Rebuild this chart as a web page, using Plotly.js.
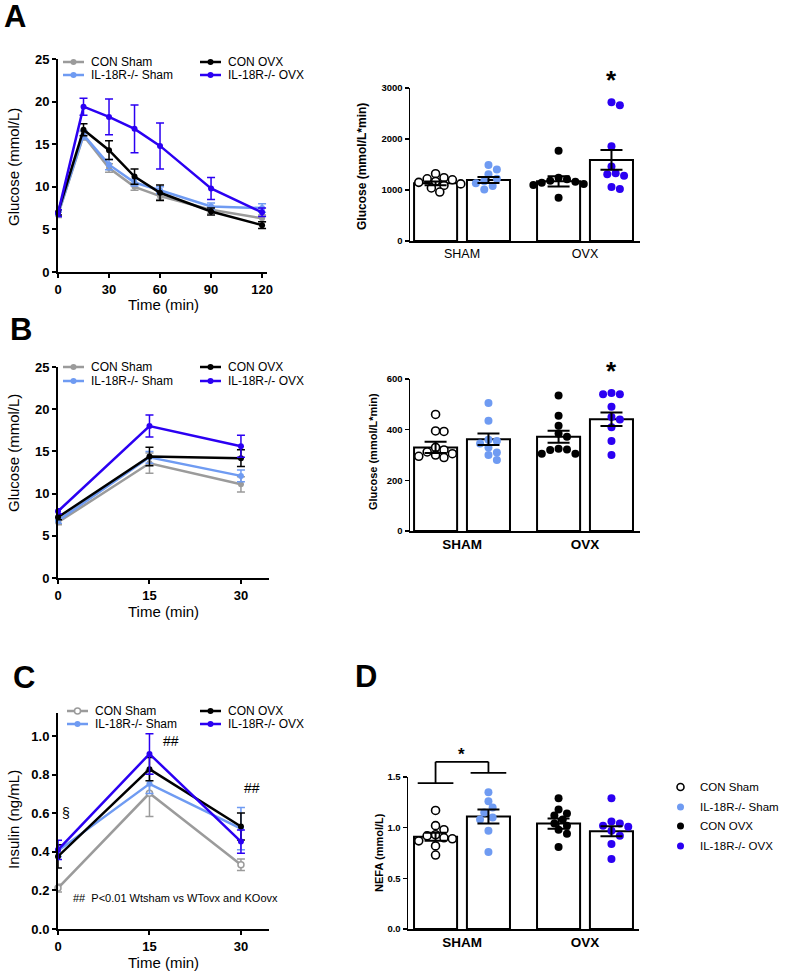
<!DOCTYPE html>
<html><head><meta charset="utf-8">
<script src="https://cdn.plot.ly/plotly-3.0.1.min.js"></script>
<style>html,body{margin:0;padding:0;background:#fff}</style>
</head><body><div id="chart" style="width:787px;height:972px"></div>
<script>
// ---------- DATA ----------
const seriesNames = ["CON Sham", "IL-18R-/- Sham", "CON OVX", "IL-18R-/- OVX"];
const groupLabels = ["SHAM", "OVX"];

// Panel A - GTT
const timeA = [0, 15, 30, 45, 60, 90, 120];
const conShamA = [6.7, 16.0, 12.2, 10.0, 8.9, 7.3, 6.3];
const conShamAErr = [0.3, 0.5, 0.5, 0.4, 0.4, 0.4, 0.4];
const ilShamA = [6.8, 16.1, 12.6, 10.5, 9.6, 7.7, 7.5];
const ilShamAErr = [0.3, 0.5, 0.6, 0.4, 0.4, 0.4, 0.5];
const conOvxA = [7.0, 16.7, 14.3, 11.2, 9.3, 7.1, 5.5];
const conOvxAErr = [0.3, 0.7, 1.1, 0.9, 0.9, 0.4, 0.4];
const ilOvxA = [6.9, 19.4, 18.2, 16.8, 14.8, 9.8, 7.0];
const ilOvxAErr = [0.4, 1.0, 2.1, 2.8, 2.7, 1.3, 0.5];

// Panel A - AUC
const conShamAucA = [1320, 1240, 1220, 1200, 1170, 1150, 1120, 1090, 1040, 960];
const ilShamAucA = [1490, 1400, 1310, 1220, 1170, 1130, 1080, 1010];
const conOvxAucA = [1770, 1240, 1210, 1180, 1160, 1140, 1120, 1100, 850];
const ilOvxAucA = [2720, 2660, 1860, 1460, 1330, 1310, 1280, 1060, 1020];
const meanAucA = [1130, 1195, 1170, 1590];
const semAucA = [35, 60, 100, 195];

// Panel B - glucose
const timeB = [0, 15, 30];
const conShamB = [6.6, 13.6, 11.1];
const conShamBErr = [0.3, 1.2, 0.9];
const ilShamB = [6.8, 14.3, 12.1];
const ilShamBErr = [0.3, 0.7, 0.7];
const conOvxB = [7.2, 14.4, 14.2];
const conOvxBErr = [0.3, 1.1, 1.0];
const ilOvxB = [7.9, 18.0, 15.6];
const ilOvxBErr = [0.3, 1.3, 1.3];

// Panel B - AUC
const conShamAucB = [460, 395, 393, 330, 320, 312, 305, 300, 295, 290];
const ilShamAucB = [505, 435, 360, 355, 345, 330, 310, 300, 280];
const conOvxAucB = [535, 455, 415, 385, 372, 325, 322, 320, 305, 305];
const ilOvxAucB = [545, 540, 540, 490, 450, 440, 410, 355, 300];
const meanAucB = [330, 362, 372, 441];
const semAucB = [22, 23, 24, 27];

// Panel C - Insulin
const timeC = [0, 15, 30];
const conShamC = [0.212, 0.703, 0.333];
const conShamCErr = [0.02, 0.12, 0.03];
const ilShamC = [0.405, 0.752, 0.52];
const ilShamCErr = [0.03, 0.05, 0.11];
const conOvxC = [0.376, 0.828, 0.531];
const conOvxCErr = [0.06, 0.06, 0.07];
const ilOvxC = [0.41, 0.907, 0.453];
const ilOvxCErr = [0.05, 0.105, 0.06];

// Panel D - NEFA
const conShamD = [1.17, 1.02, 0.98, 0.93, 0.92, 0.90, 0.89, 0.87, 0.82, 0.73];
const ilShamD = [1.35, 1.26, 1.20, 1.15, 1.10, 1.08, 0.97, 0.76];
const conOvxD = [1.29, 1.18, 1.14, 1.12, 1.08, 1.04, 1.02, 0.98, 0.94, 0.81];
const ilOvxD = [1.29, 1.06, 1.04, 1.02, 1.01, 0.97, 0.92, 0.84, 0.69];
const meanD = [0.91, 1.11, 1.04, 0.965];
const semD = [0.04, 0.07, 0.05, 0.05];

// ---------- STYLE ----------
const W = 787, H = 972;
const F = "Liberation Sans, Arial, Helvetica, sans-serif";
const colors = ["#9b9b9b", "#6f9bf2", "#000000", "#2b00f2"];
const PX = x => x / W, PY = y => 1 - y / H;

const traces = [];
const shapes = [];
const annotations = [];

function ann(x, y, text, size, bold, extra) {
  annotations.push(Object.assign({
    xref: "paper", yref: "paper", x: PX(x), y: PY(y), text: text, showarrow: false,
    xanchor: "center", yanchor: "middle",
    font: {family: F, size: size, color: "#000", weight: bold ? "bold" : "normal"}
  }, extra || {}));
}

function axisBase(extra) {
  return Object.assign({
    showline: true, linecolor: "#000", linewidth: 2, showgrid: false, zeroline: false,
    ticks: "outside", ticklen: 4, tickwidth: 2, tickcolor: "#000",
    tickfont: {family: F, size: 13, color: "#000", weight: "bold"}, fixedrange: true
  }, extra);
}

// ---------- Line panels ----------
function linePanel(xa, ya, t, sets, openFirst) {
  sets.forEach((s, i) => {
    const open = openFirst && i === 0;
    traces.push({
      type: "scatter", mode: "lines+markers", x: t, y: s[0], xaxis: xa, yaxis: ya,
      line: {color: colors[i], width: 2.5},
      marker: {color: open ? "#fff" : colors[i], size: 6, line: {color: colors[i], width: open ? 1.5 : 0}},
      error_y: {type: "data", array: s[1], visible: true, color: colors[i], thickness: 1.5, width: 4},
      cliponaxis: false, showlegend: false, hoverinfo: "skip"
    });
  });
}
linePanel("x", "y", timeA, [[conShamA, conShamAErr], [ilShamA, ilShamAErr], [conOvxA, conOvxAErr], [ilOvxA, ilOvxAErr]], false);
linePanel("x3", "y3", timeB, [[conShamB, conShamBErr], [ilShamB, ilShamBErr], [conOvxB, conOvxBErr], [ilOvxB, ilOvxBErr]], false);
linePanel("x5", "y5", timeC, [[conShamC, conShamCErr], [ilShamC, ilShamCErr], [conOvxC, conOvxCErr], [ilOvxC, ilOvxCErr]], true);

// legend for line panels
function lineLegend(rowY1, rowY2, c1x, c2x, openFirst) {
  const rows = [[c1x, rowY1], [c1x, rowY2], [c2x, rowY1], [c2x, rowY2]];
  rows.forEach((r, i) => {
    const x0 = r[0], y = r[1];
    shapes.push({type: "line", xref: "paper", yref: "paper", x0: PX(x0), x1: PX(x0 + 21), y0: PY(y), y1: PY(y),
      line: {color: colors[i], width: 2.5}});
    const open = openFirst && i === 0;
    shapes.push({type: "circle", xref: "paper", yref: "paper", x0: PX(x0 + 7.5), x1: PX(x0 + 13.5), y0: PY(y - 3), y1: PY(y + 3),
      fillcolor: open ? "#fff" : colors[i], line: {color: colors[i], width: open ? 1.5 : 0}});
    ann(x0 + 26, y, seriesNames[i], 12, false, {xanchor: "left"});
  });
}
lineLegend(62, 75, 63, 200, false);
lineLegend(367, 381, 63, 200, false);
lineLegend(711, 724, 67, 200, true);

// ---------- Bar panels ----------
const barOff = 0.215, barW = 0.35;
const barX = [-barOff, barOff, 1 - barOff, 1 + barOff];

function swarm(values, center, pxPerX, pxPerY, d) {
  const placed = [], xs = [];
  const step = d / 2;
  values.forEach(v => {
    const yp = v * pxPerY;
    let chosen = 0;
    for (let k = 0; k < 30; k++) {
      const off = (k === 0) ? 0 : (k % 2 === 1 ? 1 : -1) * Math.ceil(k / 2) * step;
      if (placed.every(p => (p[0] - off) ** 2 + (p[1] - yp) ** 2 >= d * d * 0.75)) { chosen = off; break; }
    }
    placed.push([chosen, yp]);
    xs.push(center + chosen / pxPerX);
  });
  return xs;
}

function barPanel(xa, ya, groups, means, sems, pxPerX, pxPerY) {
  traces.push({
    type: "bar", x: barX, y: means, width: barW, xaxis: xa, yaxis: ya,
    marker: {color: "#fff", line: {color: "#000", width: 2}}, showlegend: false, hoverinfo: "skip"
  });
  const dotFill = ["#fff", colors[1], "#000", colors[3]];
  groups.forEach((vals, i) => {
    const open = i === 0;
    traces.push({
      type: "scatter", mode: "markers", x: swarm(vals, barX[i], pxPerX, pxPerY, 8.4), y: vals, xaxis: xa, yaxis: ya,
      marker: {size: 8, color: dotFill[i], line: {color: "#000", width: open ? 1.6 : 0}},
      cliponaxis: false, showlegend: false, hoverinfo: "skip"
    });
  });
  traces.push({
    type: "scatter", mode: "markers", x: barX, y: means, xaxis: xa, yaxis: ya,
    marker: {size: 1, opacity: 0},
    error_y: {type: "data", array: sems, visible: true, color: "#000", thickness: 2, width: 11},
    cliponaxis: false, showlegend: false, hoverinfo: "skip"
  });
}
const pxXbar = 230 / 1.87;
barPanel("x2", "y2", [conShamAucA, ilShamAucA, conOvxAucA, ilOvxAucA], meanAucA, semAucA, pxXbar, 153 / 3000);
barPanel("x4", "y4", [conShamAucB, ilShamAucB, conOvxAucB, ilOvxAucB], meanAucB, semAucB, pxXbar, 152 / 600);
barPanel("x6", "y6", [conShamD, ilShamD, conOvxD, ilOvxD], meanD, semD, 231 / 1.878, 152 / 1.5);

// ---------- Layout ----------
const tfBar = {family: F, size: 9.5, color: "#000", weight: "bold"};
const D6 = {x: [408, 639], y: [929, 777], xr: [-0.439, 1.439], yr: [0, 1.5]};
const layout = {
  width: W, height: H, margin: {l: 0, r: 0, t: 0, b: 0},
  paper_bgcolor: "#fff", plot_bgcolor: "rgba(0,0,0,0)", showlegend: false,
  font: {family: F, color: "#000"},
  xaxis: axisBase({domain: [PX(58), PX(267)], range: [0, 122.9], tickvals: [0, 30, 60, 90, 120], anchor: "y"}),
  yaxis: axisBase({domain: [PY(272), PY(59)], range: [0, 25], tickvals: [0, 5, 10, 15, 20, 25], anchor: "x"}),
  xaxis2: axisBase({domain: [PX(410), PX(640)], range: [-0.423, 1.447], tickvals: [0, 1], ticktext: groupLabels, ticks: "",
    tickfont: {family: F, size: 12.5, color: "#000"}, anchor: "y2"}),
  yaxis2: axisBase({domain: [PY(241), PY(88)], range: [0, 3000], tickvals: [0, 1000, 2000, 3000], linewidth: 1.5, tickwidth: 1.5,
    tickfont: tfBar, anchor: "x2"}),
  xaxis3: axisBase({domain: [PX(58), PX(269)], range: [0, 34.6], tickvals: [0, 15, 30], anchor: "y3"}),
  yaxis3: axisBase({domain: [PY(578), PY(367)], range: [0, 25], tickvals: [0, 5, 10, 15, 20, 25], anchor: "x3"}),
  xaxis4: axisBase({domain: [PX(410), PX(640)], range: [-0.423, 1.447], tickvals: [0, 1], ticktext: groupLabels, ticks: "",
    tickfont: {family: F, size: 13.5, color: "#000", weight: "bold"}, anchor: "y4"}),
  yaxis4: axisBase({domain: [PY(531), PY(379)], range: [0, 600], tickvals: [0, 200, 400, 600], linewidth: 1.5, tickwidth: 1.5,
    tickfont: tfBar, anchor: "x4"}),
  xaxis5: axisBase({domain: [PX(58), PX(269)], range: [0, 34.6], tickvals: [0, 15, 30], anchor: "y5"}),
  yaxis5: axisBase({domain: [PY(929), PY(713)], range: [0, 1.119], tickvals: [0, 0.2, 0.4, 0.6, 0.8, 1.0], tickformat: ".1f", anchor: "x5"}),
  xaxis6: axisBase({domain: [PX(D6.x[0]), PX(D6.x[1])], range: D6.xr, tickvals: [0, 1], ticktext: groupLabels, ticks: "",
    tickfont: {family: F, size: 13.5, color: "#000", weight: "bold"}, anchor: "y6"}),
  yaxis6: axisBase({domain: [PY(D6.y[0]), PY(D6.y[1])], range: D6.yr, tickvals: [0, 0.5, 1.0, 1.5], tickformat: ".1f", linewidth: 1.5, tickwidth: 1.5,
    tickfont: tfBar, anchor: "x6"}),
  shapes: shapes, annotations: annotations
};

// panel letters
ann(15, 16, "A", 31, true);
ann(21, 330, "B", 31, true);
ann(24, 677, "C", 31, true);
ann(366, 676, "D", 31, true);

// axis titles
ann(13, 167, "Glucose (mmol/L)", 15, false, {textangle: -90});
ann(163, 304, "Time (min)", 15, false);
ann(362, 167, "Glucose (mmol/L*min)", 12, true, {textangle: -90});
ann(13, 453, "Glucose (mmol/L)", 15, false, {textangle: -90});
ann(163, 611, "Time (min)", 15, false);
ann(373, 452, "Glucose (mmol/L*min)", 11, true, {textangle: -90});
ann(13, 820, "Insulin (ng/mL)", 15, false, {textangle: -90});
ann(163, 962, "Time (min)", 15, false);
ann(379, 853, "NEFA (mmol/L)", 11, true, {textangle: -90});

// significance marks
ann(611, 80, "*", 26, true);
ann(611, 371, "*", 26, true);
ann(66, 813, "§", 14, false);
ann(171, 741, "##", 14, false);
ann(252, 788, "##", 14, false);
ann(71, 898, "##  P<0.01 Wtsham vs WTovx and KOovx", 11, false, {xanchor: "left"});

// bracket in D (data -> paper, so it is not clipped by the subplot)
const dX = v => PX(D6.x[0] + (v - D6.xr[0]) / (D6.xr[1] - D6.xr[0]) * (D6.x[1] - D6.x[0]));
const dY = v => PY(D6.y[0] + (v - D6.yr[0]) / (D6.yr[1] - D6.yr[0]) * (D6.y[1] - D6.y[0]));
const hw = 0.145;
const brLines = [
  [barX[0] - hw, 1.44, barX[0] + hw, 1.44],
  [barX[1] - hw, 1.54, barX[1] + hw, 1.54],
  [barX[0], 1.44, barX[0], 1.65],
  [barX[0], 1.65, barX[1], 1.65],
  [barX[1], 1.65, barX[1], 1.54]
];
brLines.forEach(l => shapes.push({type: "line", xref: "paper", yref: "paper",
  x0: dX(l[0]), y0: dY(l[1]), x1: dX(l[2]), y1: dY(l[3]), line: {color: "#000", width: 1.8}}));
annotations.push({xref: "paper", yref: "paper", x: dX(0), y: dY(1.72), text: "*", showarrow: false,
  xanchor: "center", yanchor: "middle", font: {family: F, size: 17, color: "#000", weight: "bold"}});

// legend D
const dotColors = ["#fff", colors[1], "#000", colors[3]];
[787, 807, 826, 846].forEach((y, i) => {
  shapes.push({type: "circle", xref: "paper", yref: "paper", x0: PX(677), x1: PX(684), y0: PY(y - 3.5), y1: PY(y + 3.5),
    fillcolor: dotColors[i], line: {color: i === 0 ? "#000" : dotColors[i], width: i === 0 ? 1.6 : 0}});
  ann(698, y, seriesNames[i], 11.5, false, {xanchor: "left"});
});

Plotly.newPlot("chart", traces, layout, {staticPlot: true, displayModeBar: false});
</script></body></html>
